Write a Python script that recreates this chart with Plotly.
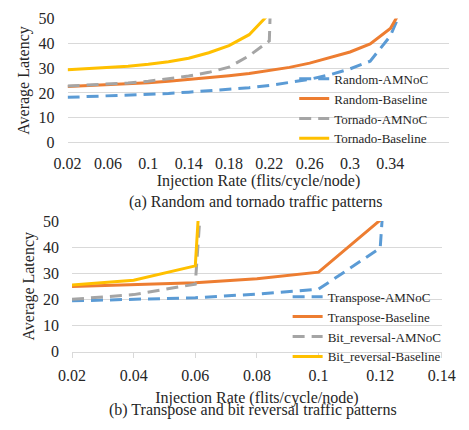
import plotly.graph_objects as go

# ---------------- data: (a) random & tornado ----------------
x_a = [0.02, 0.04, 0.06, 0.08, 0.10, 0.12, 0.14, 0.16, 0.18, 0.20,
       0.22, 0.24, 0.26, 0.28, 0.30, 0.32, 0.34, 0.36]
random_amnoc = [18.2, 18.5, 18.8, 19.1, 19.4, 19.8, 20.3, 20.8, 21.4, 22.1,
                23.0, 24.1, 25.5, 27.3, 29.7, 32.8, 43.0, 62.0]
random_baseline = [22.6, 22.9, 23.2, 23.6, 24.1, 24.7, 25.4, 26.1, 26.9, 27.8,
                   28.9, 30.3, 32.0, 34.1, 36.5, 39.8, 46.0, 60.0]
x_tornado = [0.02, 0.04, 0.06, 0.08, 0.10, 0.12, 0.14, 0.16, 0.18, 0.20, 0.22, 0.24]
tornado_amnoc = [22.8, 23.1, 23.5, 24.0, 24.7, 25.6, 26.8, 28.3, 30.4, 35.0, 41.0, 300.0]
x_tornado_b = [0.02, 0.04, 0.06, 0.08, 0.10, 0.12, 0.14, 0.16, 0.18, 0.20, 0.22]
tornado_baseline = [29.3, 29.7, 30.2, 30.8, 31.6, 32.6, 34.0, 36.2, 39.1, 43.5, 52.0]
ticks_a = [0.02, 0.06, 0.10, 0.14, 0.18, 0.22, 0.26, 0.30, 0.34]
ticktext_a = ["0.02", "0.06", "0.1", "0.14", "0.18", "0.22", "0.26", "0.3", "0.34"]

# ---------------- data: (b) transpose & bit reversal ----------------
x_tr_amnoc = [0.02, 0.04, 0.06, 0.08, 0.10, 0.12, 0.121]
transpose_amnoc = [19.4, 20.0, 20.6, 22.0, 23.9, 39.6, 57.0]
x_tr_base = [0.02, 0.04, 0.06, 0.08, 0.10, 0.12]
transpose_baseline = [24.9, 25.5, 26.3, 27.9, 30.4, 50.3]
x_br_amnoc = [0.02, 0.04, 0.06, 0.062]
bitrev_amnoc = [20.0, 21.8, 25.8, 60.0]
x_br_base = [0.02, 0.04, 0.06, 0.061]
bitrev_baseline = [25.5, 27.3, 32.8, 52.0]
ticks_b = [0.02, 0.04, 0.06, 0.08, 0.10, 0.12, 0.14]
ticktext_b = ["0.02", "0.04", "0.06", "0.08", "0.1", "0.12", "0.14"]

y_ticks = [0, 10, 20, 30, 40, 50]

BLUE, ORANGE, GRAY, YELLOW = "#5B9BD5", "#ED7D31", "#A5A5A5", "#FFC000"
GRID = "#d9d9d9"
FONT = "Liberation Serif, Times New Roman, serif"
TXT = "#262626"
DASH = "12px,7px"

fig = go.Figure()

def add(x, y, name, color, dash, xa, ya, legend):
    fig.add_trace(go.Scatter(
        x=x, y=y, name=name, mode="lines",
        line=dict(color=color, width=3, dash=dash),
        xaxis=xa, yaxis=ya, legend=legend, hoverinfo="x+y+name"))

add(x_a, random_amnoc, "Random-AMNoC", BLUE, DASH, "x", "y", "legend")
add(x_a, random_baseline, "Random-Baseline", ORANGE, "solid", "x", "y", "legend")
add(x_tornado, tornado_amnoc, "Tornado-AMNoC", GRAY, DASH, "x", "y", "legend")
add(x_tornado_b, tornado_baseline, "Tornado-Baseline", YELLOW, "solid", "x", "y", "legend")

add(x_tr_amnoc, transpose_amnoc, "Transpose-AMNoC", BLUE, DASH, "x2", "y2", "legend2")
add(x_tr_base, transpose_baseline, "Transpose-Baseline", ORANGE, "solid", "x2", "y2", "legend2")
add(x_br_amnoc, bitrev_amnoc, "Bit_reversal-AMNoC", GRAY, DASH, "x2", "y2", "legend2")
add(x_br_base, bitrev_baseline, "Bit_reversal-Baseline", YELLOW, "solid", "x2", "y2", "legend2")

W, H = 469, 430
def px_x(p): return p / W
def px_y(p): return 1 - p / H

axis_font = dict(family=FONT, size=16, color=TXT)
title_font = dict(family=FONT, size=16, color=TXT)

yaxis_common = dict(
    range=[0, 50], tickvals=y_ticks, showgrid=True, gridcolor=GRID, gridwidth=1,
    zeroline=False, showline=False, ticks="", tickfont=axis_font,
    ticklabelstandoff=12, fixedrange=True,
    title=dict(text="Average Latency", font=title_font, standoff=4))

fig.update_layout(
    width=W, height=H, margin=dict(l=0, r=0, t=0, b=0),
    paper_bgcolor="white", plot_bgcolor="white",
    font=dict(family=FONT, color=TXT),
    xaxis=dict(domain=[px_x(57), px_x(463)], range=[0.02, 0.3985],
               tickvals=ticks_a, ticktext=ticktext_a, showgrid=False,
               zeroline=False, showline=True, linecolor=GRID, linewidth=1,
               ticks="", tickfont=axis_font, ticklabelstandoff=6,
               anchor="y", fixedrange=True,
               title=dict(text="Injection Rate (flits/cycle/node)", font=title_font, standoff=2)),
    yaxis=dict(domain=[px_y(140), px_y(11)], anchor="x", **yaxis_common),
    xaxis2=dict(domain=[px_x(61.7), px_x(455)], range=[0.02, 0.14],
                tickvals=ticks_b, ticktext=ticktext_b, showgrid=False,
                zeroline=False, showline=True, linecolor=GRID, linewidth=1,
                ticks="outside", ticklen=5, tickcolor=GRID, tickfont=axis_font,
                ticklabelstandoff=4, anchor="y2", fixedrange=True,
                title=dict(text="Injection Rate (flits/cycle/node)", font=title_font, standoff=9)),
    yaxis2=dict(domain=[px_y(357.7), px_y(221.7)], anchor="x2", **yaxis_common),
    legend=dict(x=px_x(298), y=px_y(58), xanchor="left", yanchor="top",
                bgcolor="rgba(0,0,0,0)", font=dict(family=FONT, size=13, color=TXT),
                tracegroupgap=0, itemwidth=30),
    legend2=dict(x=px_x(291), y=px_y(285), xanchor="left", yanchor="top",
                 bgcolor="rgba(0,0,0,0)", font=dict(family=FONT, size=13, color=TXT),
                 tracegroupgap=0, itemwidth=30),
    annotations=[
        dict(text="(a) Random and tornado traffic patterns", x=px_x(257), y=px_y(202),
             xref="paper", yref="paper", showarrow=False, xanchor="center", yanchor="middle",
             font=dict(family=FONT, size=16, color=TXT)),
        dict(text="(b) Transpose and bit reversal traffic patterns", x=px_x(254), y=px_y(419),
             xref="paper", yref="paper", showarrow=False, xanchor="center", yanchor="middle",
             font=dict(family=FONT, size=16, color=TXT)),
    ],
)

fig.write_html("out.html", config={"displayModeBar": False},
               post_script="document.body.style.margin='0';")
